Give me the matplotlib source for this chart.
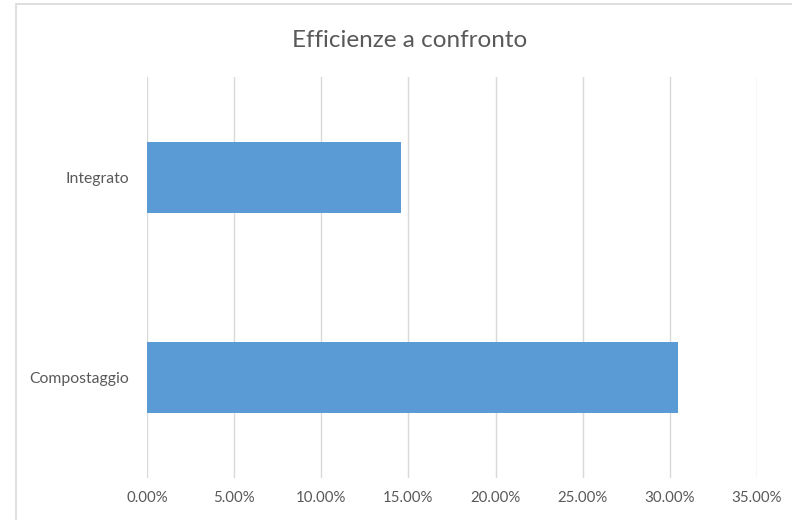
import matplotlib
matplotlib.use("Agg")
import matplotlib.pyplot as plt
from matplotlib.patches import Rectangle
from matplotlib.ticker import FuncFormatter

plt.rcParams['font.family'] = ['Lato', 'DejaVu Sans']

categories = ["Compostaggio", "Integrato"]
efficiency = [0.3048, 0.1459]
x_ticks = [0.0, 0.05, 0.10, 0.15, 0.20, 0.25, 0.30, 0.35]

W, H = 792, 520
fig = plt.figure(figsize=(W / 100, H / 100), dpi=100)
fig.patch.set_facecolor("white")

# chart-area frame
fig.add_artist(Rectangle((16 / W, -0.1), 1.2, (H - 4.5) / H + 0.1,
                         transform=fig.transFigure, fill=False,
                         edgecolor="#d9d9d9", linewidth=1.2))

left, right, top, bottom = 147, 757, 77.5, 478
ax = fig.add_axes([left / W, 1 - bottom / H, (right - left) / W, (bottom - top) / H])

text_color = "#595959"
ax.barh(range(len(categories)), efficiency, height=0.355, color="#5b9bd5",
        zorder=3)

ax.set_xlim(0, 0.35)
ax.set_ylim(-0.5, len(categories) - 0.5)
ax.set_xticks(x_ticks)
ax.xaxis.set_major_formatter(FuncFormatter(lambda v, p: f"{v * 100:.2f}%"))
ax.set_yticks(range(len(categories)))
ax.set_yticklabels(categories)

ax.grid(axis="x", color="#d9d9d9", linewidth=1.0, zorder=0)
for s in ax.spines.values():
    s.set_visible(False)
ax.tick_params(axis="both", length=0, colors=text_color)
ax.tick_params(axis="x", pad=9, labelsize=10.8)
ax.tick_params(axis="y", pad=13, labelsize=11.3)

fig.text(410 / W, 1 - 41 / H, "Efficienze a confronto",
         ha="center", va="center", fontsize=17.5, color=text_color)

fig.savefig("out.png", dpi=100)
